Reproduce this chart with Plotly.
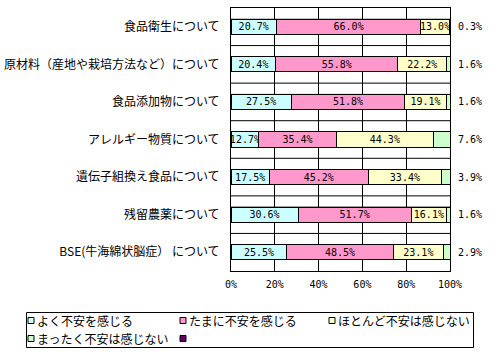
import plotly.graph_objects as go

categories = [
    "食品衛生について",
    "原材料（産地や栽培方法など）について",
    "食品添加物について",
    "アレルギー物質について",
    "遺伝子組換え食品について",
    "残留農薬について",
    "BSE(牛海綿状脳症） について",
]
series_names = ["よく不安を感じる", "たまに不安を感じる", "ほとんど不安は感じない", "まったく不安は感じない", ""]
often = [20.7, 20.4, 27.5, 12.7, 17.5, 30.6, 25.5]
sometimes = [66.0, 55.8, 51.8, 35.4, 45.2, 51.7, 48.5]
rarely = [13.0, 22.2, 19.1, 44.3, 33.4, 16.1, 23.1]
never = [0.3, 1.6, 1.6, 7.6, 3.9, 1.6, 2.9]
other = [0, 0, 0, 0, 0, 0, 0]
colors = ["#CCFFFF", "#FF99CC", "#FFFFCC", "#CCFFCC", "#660066"]
x_ticks = [0, 20, 40, 60, 80, 100]

MONO = "DejaVu Sans Mono"
JP = "Noto Sans CJK JP"

# figure geometry (pixels)
W, H = 498, 355
L, R, T, B = 231, 48, 8, 84
PW, PH = W - L - R, H - T - B


def px2x(px):
    return (px - L) / PW


def py2y(py):
    return (H - B - py) / PH


ypos = list(range(len(categories)))
fig = go.Figure()
all_series = [often, sometimes, rarely, never, other]
for k, vals in enumerate(all_series):
    show_text = k < 3
    fig.add_trace(go.Bar(
        y=ypos, x=vals, orientation="h", name=series_names[k],
        marker=dict(color=colors[k], line=dict(color="black", width=1)),
        width=0.4,
        text=[f"{v:.1f}%" for v in vals] if show_text else None,
        textposition="inside" if show_text else "none",
        insidetextanchor="middle",
        textfont=dict(family=MONO, size=10, color="black"),
        cliponaxis=False,
        showlegend=False,
        hoverinfo="skip",
    ))

annotations = []
# labels of the last series, right of the plot
for i, v in enumerate(never):
    annotations.append(dict(x=px2x(470), xref="paper", y=i, yref="y", text=f"{v:.1f}%",
                            showarrow=False, font=dict(family=MONO, size=10, color="black"),
                            xanchor="center", yanchor="middle"))

shapes = []
# horizontal grid lines: category boundaries and bar tops
for i in range(len(categories)):
    for yy in ([i - 0.2] + ([i + 0.5] if i < len(categories) - 1 else [])):
        shapes.append(dict(type="line", xref="paper", yref="y", x0=0, x1=1, y0=yy, y1=yy,
                           line=dict(color="black", width=1), layer="below"))

# legend (drawn as a boxed key below the chart)
shapes.append(dict(type="rect", xref="paper", yref="paper",
                   x0=px2x(26.5), x1=px2x(473.5), y0=py2y(312.5), y1=py2y(347.5),
                   line=dict(color="black", width=1), fillcolor="white", layer="above"))
col_x = [31, 183, 332]
row_y = [320.5, 338.5]
for k, name in enumerate(series_names):
    cx = col_x[k % 3]
    cy = row_y[k // 3]
    shapes.append(dict(type="rect", xref="paper", yref="paper",
                       xsizemode="pixel", ysizemode="pixel",
                       xanchor=px2x(cx), yanchor=py2y(cy),
                       x0=-3, x1=3, y0=-3, y1=3,
                       line=dict(color="black", width=1), fillcolor=colors[k], layer="above"))
    if name:
        annotations.append(dict(x=px2x(cx + 4), xref="paper", y=py2y(cy), yref="paper",
                                text=name, showarrow=False, xanchor="left", yanchor="middle",
                                font=dict(family=JP, size=12, color="black")))

fig.update_layout(
    width=W, height=H,
    margin=dict(l=L, r=R, t=T, b=B, autoexpand=False),
    barmode="stack",
    plot_bgcolor="white", paper_bgcolor="white",
    uniformtext=dict(mode="show", minsize=10),
    showlegend=False,
    shapes=shapes,
    annotations=annotations,
    xaxis=dict(range=[0, 100], tickvals=x_ticks, ticktext=[f"{t}%" for t in x_ticks],
               showgrid=True, gridcolor="black", gridwidth=1, zeroline=False,
               showline=True, mirror=True, linecolor="black", linewidth=1, automargin=False,
               ticks="", ticklabelstandoff=4,
               tickfont=dict(family=MONO, size=10, color="black")),
    yaxis=dict(range=[len(categories) - 0.5, -0.5], tickvals=ypos, ticktext=categories,
               showgrid=False, zeroline=False, automargin=False,
               showline=True, mirror=True, linecolor="black", linewidth=1,
               ticks="", ticklabelstandoff=8,
               tickfont=dict(family=JP, size=12, color="black")),
)

fig.write_html("out.html", config={"displayModeBar": False},
               post_script="document.body.style.margin='0';")
